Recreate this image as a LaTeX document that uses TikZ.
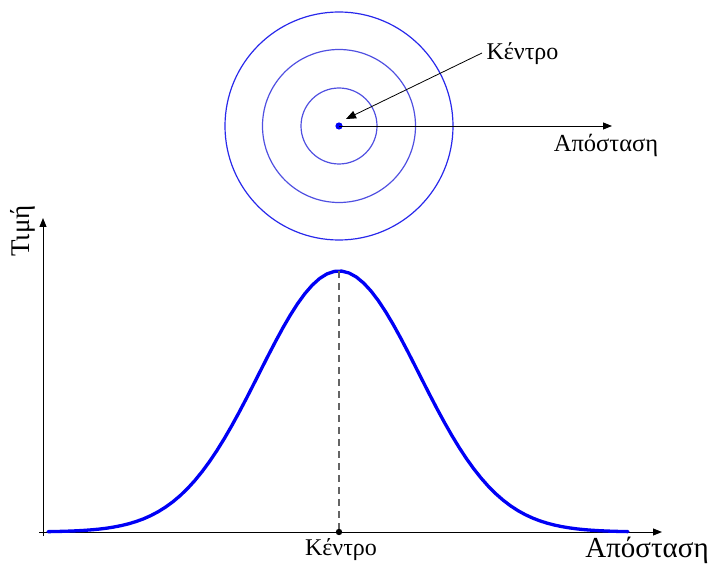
\documentclass[tikz,border=0pt]{standalone}
\usepackage{fontspec}
\setmainfont{Liberation Serif}
\usetikzlibrary{arrows.meta}
\definecolor{ringout}{RGB}{40,40,235}
\definecolor{ringin}{RGB}{80,80,225}
\definecolor{curveblue}{RGB}{0,0,245}
\definecolor{dashgray}{RGB}{100,100,100}
\tikzset{
  ring/.style={line width=1.2pt},
  axisline/.style={line width=1pt, black},
  tipbig/.style={-{Triangle[length=10pt,width=8pt]}},
  tipsmall/.style={-{Triangle[length=9pt,width=7pt]}},
  lbl/.style={inner sep=0pt, anchor=base},
}
\begin{document}
\begin{tikzpicture}[x=1pt,y=-1pt]
\useasboundingbox (0,0) rectangle (710,564);
% rings
\coordinate (c) at (339,126);
\draw[ring, ringout] (c) circle[radius=114];
\draw[ring, ringin] (c) circle[radius=76.5];
\draw[ring, ringin] (c) circle[radius=38];
\fill[curveblue] (c) circle[radius=3.6];
% labels top
\node[lbl, font=\fontsize{24}{28}\selectfont] (k1) at (522.5,60) {Κέντρο};
\node[lbl, font=\fontsize{24.5}{28}\selectfont] (a1) at (606,152) {Απόσταση};
\coordinate (a1end) at (612,126);
\coordinate (k1start) at (482,53);
\coordinate (ctip) at (346,119);
\draw[axisline, line width=0.8pt, tipsmall] (c) -- (a1end);
\draw[axisline, line width=0.8pt, tipbig] (k1start) -- (ctip);
% axes
\coordinate (ybot) at (43,536);
\coordinate (ytop) at (43,218);
\coordinate (xleft) at (39,532);
\coordinate (xright) at (662,532);
\draw[axisline, tipsmall] (ybot) -- (ytop);
\draw[axisline, tipsmall] (xleft) -- (xright);
\node[lbl, font=\fontsize{27}{31}\selectfont, rotate=90] (t) at (30,231) {Τιμή};
% curve
\draw[curveblue, line width=3.3pt, line join=round, line cap=round]
  plot[domain=-3.6375:3.6125, samples=80] ({339+80*\x}, {532-261*exp(-\x*\x/2)});
\coordinate (peak) at (339,271);
\coordinate (base) at (339,532);
\draw[dashgray, line width=1.4pt, dash pattern=on 7pt off 5pt] (peak) -- (base);
\fill[black] (base) circle[radius=3.2];
\node[lbl, font=\fontsize{24}{28}\selectfont] (k2) at (341,555) {Κέντρο};
\node[lbl, font=\fontsize{29}{33}\selectfont] (a2) at (647,557) {Απόσταση};
\end{tikzpicture}
\end{document}
